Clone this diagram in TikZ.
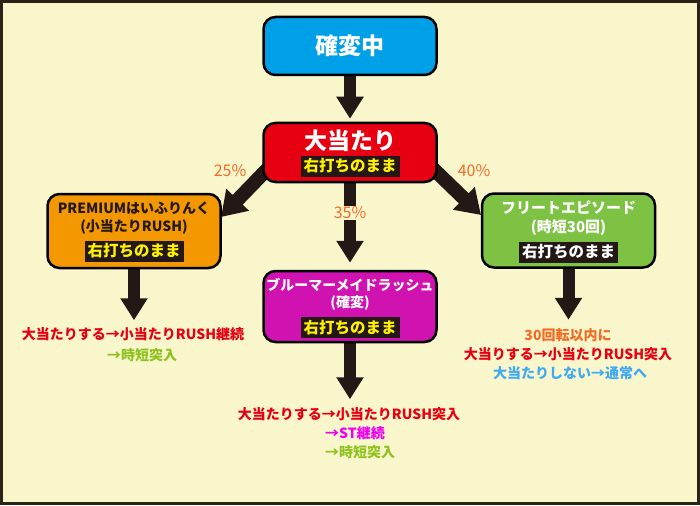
\documentclass[tikz,border=0pt]{standalone}
\usepackage{fontspec}
\setmainfont{Noto Sans CJK JP}
\usetikzlibrary{arrows.meta,calc}
\pgfdeclarelayer{back}
\pgfdeclarelayer{arr}
\pgfsetlayers{back,arr,main}
\definecolor{bgy}{HTML}{FAF6CC}
\definecolor{framec}{HTML}{2B2218}
\definecolor{arrc}{HTML}{231815}
\definecolor{cblue}{HTML}{00A0E9}
\definecolor{cred}{HTML}{E60012}
\definecolor{corange}{HTML}{F39800}
\definecolor{cgreen}{HTML}{7DC242}
\definecolor{cmag}{HTML}{CF12B0}
\definecolor{lblbg}{HTML}{231815}
\definecolor{lblyel}{HTML}{FFF100}
\definecolor{darktxt}{HTML}{231815}
\definecolor{pctc}{HTML}{F26B2A}
\definecolor{tred}{HTML}{E60012}
\definecolor{tgreen}{HTML}{8DC21F}
\definecolor{tmag}{HTML}{F000F0}
\definecolor{tblue}{HTML}{3FA9F5}
\definecolor{torange}{HTML}{F26B22}
\begin{document}
\begin{tikzpicture}[x=1pt,y=-1pt,
  box/.style={draw=black,line width=2.5pt,rounded corners=12pt,minimum width=173pt,inner sep=0pt},
  bigarr/.style={draw=arrc,line width=12pt,-{Triangle[width=26pt,length=22pt]}},
  diagarr/.style={draw=arrc,line width=14pt,-{Triangle[width=30pt,length=24pt]}},
  ttl/.style={text=white,font=\fontsize{14}{14}\selectfont\bfseries,inner sep=0pt},
  lbl/.style={fill=lblbg,text=lblyel,font=\fontsize{15.5}{15.5}\selectfont\bfseries,inner xsep=3pt,inner ysep=0pt,minimum height=21pt},
  pct/.style={text=pctc,font=\fontsize{16}{16}\selectfont,inner sep=1pt},
  res/.style={font=\fontsize{14}{14}\selectfont\bfseries,inner sep=0pt}]
\begin{pgfonlayer}{back}
\fill[bgy] (0,0) rectangle (700,505);
\draw[framec,line width=3pt] (1.5,1.5) rectangle (698.5,503.5);
\end{pgfonlayer}
\useasboundingbox (0,0) rectangle (700,505);

% boxes
\node[box,fill=cblue,minimum height=58pt,text=white,font=\fontsize{23}{23}\selectfont\bfseries] (kak) at (350,46) {確変中};
\node[box,fill=cred,minimum height=59pt] (dai) at (350,152.5) {};
\node[text=white,font=\fontsize{23}{23}\selectfont\bfseries,inner sep=0pt] (daittl) at (350,141) {大当たり};
\node[lbl] (dailbl) at (350,166) {右打ちのまま};

\node[box,fill=corange,minimum height=74pt] (prem) at (134,231) {};
\node[ttl,text=darktxt] (premt1) at (134,208) {PREMIUMはいふりんく};
\node[ttl,text=darktxt] (premt2) at (134,227) {(小当たりRUSH)};
\node[lbl] (premlbl) at (134,251) {右打ちのまま};

\node[box,fill=cgreen,minimum height=74pt] (free) at (568.5,230.5) {};
\node[ttl,font=\fontsize{15}{15}\selectfont\bfseries] (freet1) at (568.5,208) {フリートエピソード};
\node[ttl,font=\fontsize{15}{15}\selectfont\bfseries] (freet2) at (568.5,228) {(時短30回)};
\node[lbl,text=white] (freelbl) at (568.5,252) {右打ちのまま};

\node[box,fill=cmag,minimum height=71pt] (mag) at (350,306.5) {};
\node[ttl] (magt1) at (350,285) {ブルーマーメイドラッシュ};
\node[ttl] (magt2) at (350,303) {(確変)};
\node[lbl] (maglbl) at (350,327.5) {右打ちのまま};

% percentages
\node[pct] (p25) at (230,171) {25\%};
\node[pct] (p40) at (474,171) {40\%};
\node[pct,fill=bgy] (p35) at (350,213) {35\%};

% coordinates
\coordinate (ls) at (280,156);
\coordinate (lt) at (221,217);
\coordinate (rs) at (420,156);
\coordinate (rt) at (481,215);
\coordinate (premend) at ($(prem.south)+(0,51)$);
\coordinate (freeend) at ($(free.south)+(0,51)$);
\coordinate (magend) at ($(mag.south)+(0,56)$);

\begin{pgfonlayer}{arr}
\draw[bigarr,shorten >=3pt] (kak.south) -- (dai.north);
\draw[bigarr,shorten >=7pt] (dai.south) -- (mag.north);
\draw[diagarr] (ls) -- (lt);
\draw[diagarr] (rs) -- (rt);
\draw[bigarr] (prem.south) -- (premend);
\draw[bigarr] (free.south) -- (freeend);
\draw[bigarr] (mag.south) -- (magend);
\end{pgfonlayer}

% results
\node[res,text=tred] (l1) at (133,334) {大当たりする→小当たりRUSH継続};
\node[res,text=tgreen,anchor=west] (l2) at (107,355) {→時短突入};
\node[res,text=tred] (c1) at (349,414) {大当たりする→小当たりRUSH突入};
\node[res,text=tmag,anchor=west] (c2) at (325,433) {→ST継続};
\node[res,text=tgreen,anchor=west] (c3) at (325,452) {→時短突入};
\node[res,text=torange] (r1) at (568,335) {30回転以内に};
\node[res,text=tred] (r2) at (568,354) {大当りする→小当たりRUSH突入};
\node[res,text=tblue] (r3) at (570,373) {大当たりしない→通常へ};
\end{tikzpicture}
\end{document}
